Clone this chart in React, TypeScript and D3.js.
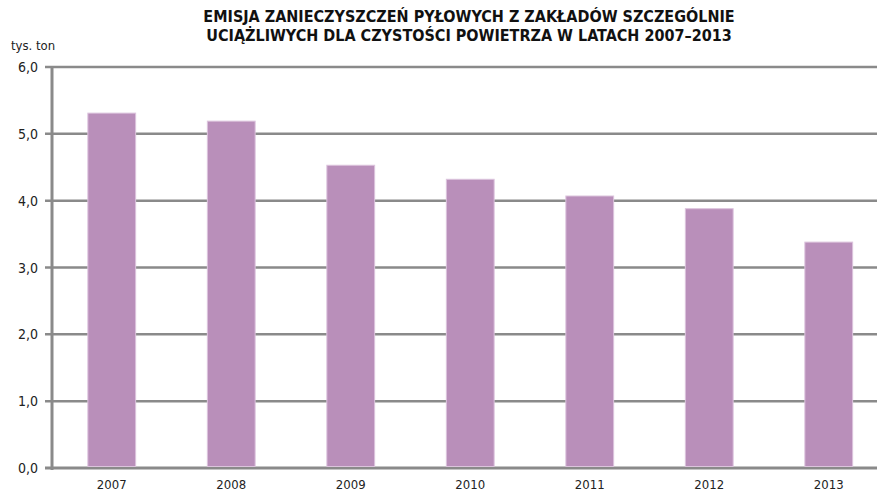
import React from "react";
import * as d3 from "d3";

const years = ["2007", "2008", "2009", "2010", "2011", "2012", "2013"];
const values = [5.31, 5.19, 4.53, 4.32, 4.07, 3.88, 3.38];
const yTicks = [0, 1, 2, 3, 4, 5, 6];
const titleLines = [
  "EMISJA ZANIECZYSZCZEŃ PYŁOWYCH Z ZAKŁADÓW SZCZEGÓLNIE",
  "UCIĄŻLIWYCH DLA CZYSTOŚCI POWIETRZA W LATACH 2007–2013",
];
const unitLabel = "tys. ton";

const W = 877;
const H = 493;
const FONT = "'Liberation Sans Narrow', 'DejaVu Sans Condensed', 'Roboto', sans-serif";

export default function App() {
  const x = d3.scaleBand<string>().domain(years).range([52, 888.5]).paddingInner(0.6).paddingOuter(0.3);
  const y = d3.scaleLinear().domain([0, 6]).range([468, 67]);
  const fmt = (v: number) => v.toFixed(1).replace(".", ",");
  return (
    <svg width={W} height={H} style={{ position: "absolute", left: 0, top: 0, background: "#fff" }}>
      {titleLines.map((t, i) => (
        <text key={i} x={469} y={22 + i * 19} textAnchor="middle" fontFamily={FONT} fontWeight="bold" fontSize={16} fill="#111">
          {t}
        </text>
      ))}
      <text x={11} y={50} fontFamily={FONT} fontSize={13} fill="#222">{unitLabel}</text>
      {yTicks.map((t) => (
        <g key={t}>
          <line x1={45} x2={W} y1={y(t)} y2={y(t)} stroke="#8a8a8a" strokeWidth={t === 0 ? 3 : 2.5} />
          <text x={38} y={y(t) + 5} textAnchor="end" fontFamily={FONT} fontSize={14} fill="#222">{fmt(t)}</text>
        </g>
      ))}
      <line x1={52} x2={52} y1={66} y2={470} stroke="#8a8a8a" strokeWidth={3} />
      {years.map((yr, i) => (
        <rect
          key={yr}
          x={x(yr)!}
          y={y(values[i])}
          width={x.bandwidth()}
          height={y(0) - y(values[i]) - 1.5}
          fill="#b98fba"
          stroke="#dcc4dd"
          strokeWidth={1}
        />
      ))}
      {years.map((yr) => (
        <text key={yr} x={x(yr)! + x.bandwidth() / 2} y={489} textAnchor="middle" fontFamily={FONT} fontSize={13} fill="#222">
          {yr}
        </text>
      ))}
    </svg>
  );
}
